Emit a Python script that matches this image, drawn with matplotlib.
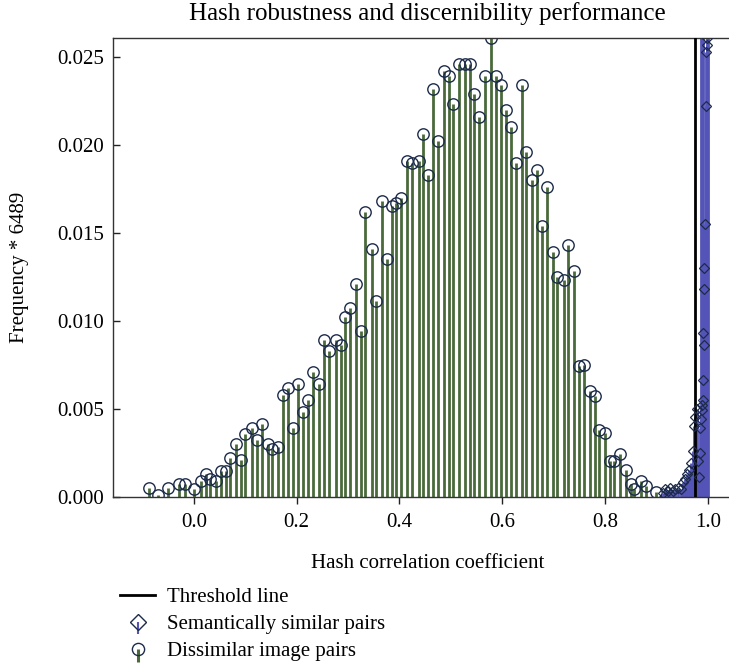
import numpy as np
import matplotlib.pyplot as plt
from matplotlib.lines import Line2D
from matplotlib.path import Path

plt.rcParams['font.family'] = ['Liberation Serif', 'DejaVu Serif']
plt.rcParams['font.size'] = 15

# dissimilar image pairs: hash correlation vs frequency
diss_x = [-0.088, -0.069, -0.050, -0.028, -0.018, 0.000, 0.014, 0.023, 0.031, 0.043,
          0.052, 0.063, 0.071, 0.083, 0.092, 0.100, 0.114, 0.123, 0.133, 0.144,
          0.153, 0.163, 0.173, 0.184, 0.192, 0.202, 0.213, 0.223, 0.232, 0.244,
          0.254, 0.263, 0.276, 0.286, 0.294, 0.303, 0.316, 0.325, 0.334, 0.346,
          0.355, 0.366, 0.375, 0.385, 0.394, 0.404, 0.415, 0.425, 0.438, 0.446,
          0.456, 0.466, 0.476, 0.486, 0.497, 0.505, 0.516, 0.527, 0.538, 0.546,
          0.555, 0.567, 0.578, 0.588, 0.597, 0.607, 0.618, 0.627, 0.638, 0.647,
          0.657, 0.668, 0.678, 0.688, 0.698, 0.707, 0.720, 0.728, 0.739, 0.749,
          0.759, 0.770, 0.781, 0.789, 0.799, 0.809, 0.818, 0.830, 0.841, 0.851,
          0.857, 0.870, 0.880, 0.899]
diss_y = [0.0005, 0.0001, 0.00046, 0.0007, 0.00073, 0.0004, 0.00088, 0.0013, 0.0010, 0.0009,
          0.00145, 0.00145, 0.0022, 0.0030, 0.0021, 0.00355, 0.0039, 0.0032, 0.0041, 0.0030,
          0.0027, 0.0028, 0.0058, 0.0062, 0.0039, 0.0064, 0.0048, 0.0055, 0.0071, 0.0064,
          0.0089, 0.0083, 0.0089, 0.0086, 0.0102, 0.0107, 0.0121, 0.0094, 0.0162, 0.0141,
          0.0111, 0.0168, 0.0135, 0.0165, 0.0167, 0.0170, 0.0191, 0.0190, 0.0191, 0.0206,
          0.0183, 0.0232, 0.0202, 0.0242, 0.0239, 0.0223, 0.0246, 0.0246, 0.0246, 0.0229,
          0.0216, 0.0239, 0.0261, 0.0239, 0.0234, 0.0220, 0.0210, 0.0190, 0.0234, 0.0196,
          0.0180, 0.0186, 0.0154, 0.0176, 0.0139, 0.0125, 0.0123, 0.0143, 0.0128, 0.0074,
          0.0075, 0.0060, 0.0057, 0.0038, 0.0036, 0.0020, 0.0020, 0.0024, 0.0015, 0.0007,
          0.0004, 0.0009, 0.0006, 0.00025]

# semantically similar pairs
sim_x = [0.912, 0.917, 0.922, 0.927, 0.932, 0.937, 0.942, 0.947, 0.952, 0.956,
         0.960, 0.964, 0.968, 0.971, 0.974, 0.976, 0.978, 0.980, 0.982, 0.984,
         0.985, 0.986, 0.987, 0.988, 0.989, 0.990, 0.9905, 0.991, 0.9915, 0.9925,
         0.993, 0.9935, 0.9945, 0.9955, 0.9965, 0.9975, 0.9985, 0.9995]
sim_y = [0.0002, 0.0004, 0.0003, 0.0005, 0.0003, 0.0004, 0.0005, 0.0004, 0.0008, 0.0010,
         0.0013, 0.0015, 0.0019, 0.0026, 0.0040, 0.0045, 0.0050, 0.0020, 0.0011, 0.0025,
         0.0039, 0.0044, 0.0480, 0.0049, 0.0052, 0.0055, 0.0093, 0.0066, 0.0950, 0.0118,
         0.0086, 0.0130, 0.0155, 0.0222, 0.0253, 0.0257, 0.0261, 0.3200]

threshold = 0.975
xticks = [0.0, 0.2, 0.4, 0.6, 0.8, 1.0]
yticks = [0.0, 0.005, 0.010, 0.015, 0.020, 0.025]

green = '#4a6a3c'
navy = '#1c2b4a'
blue = '#5454b8'

fig = plt.figure(figsize=(7.29, 6.65), dpi=100)
ax = fig.add_axes([112.5/729, 1 - 496.5/665, (742 - 112.5)/729, (496.5 - 37.7)/665])

st = ax.stem(diss_x, diss_y, basefmt=' ')
plt.setp(st.stemlines, color=green, linewidth=2)
plt.setp(st.markerline, marker='o', markersize=8.2, markerfacecolor='none',
         markeredgecolor=navy, markeredgewidth=1)

ss = ax.stem(sim_x, sim_y, basefmt=' ')
plt.setp(ss.stemlines, color=blue, linewidth=2)
plt.setp(ss.markerline, marker='D', markersize=5.4, markerfacecolor='none',
         markeredgecolor=navy, markeredgewidth=0.9, zorder=4)

ax.axvline(threshold, color='black', linewidth=2, zorder=3)

ax.set_xlim(-0.1582, 1.0665)
ax.set_ylim(0, 0.0261)
ax.set_xticks(xticks)
ax.set_xticklabels(['%.1f' % t for t in xticks])
ax.set_yticks(yticks)
ax.set_yticklabels(['%.3f' % t for t in yticks])
ax.tick_params(axis='x', direction='out', length=5, width=1, pad=6.7,
               colors='#222222', labelcolor='black')
ax.tick_params(axis='y', direction='in', length=5, width=1, pad=6.3,
               colors='#222222', labelcolor='black')
ax.spines['right'].set_visible(False)
for s in ['left', 'top', 'bottom']:
    ax.spines[s].set_color('#333333')
    ax.spines[s].set_linewidth(1)

ax.set_title('Hash robustness and discernibility performance', pad=13)
ax.set_xlabel('Hash correlation coefficient', labelpad=15.8)
ax.set_ylabel('Frequency * 6489', labelpad=20)

stem_mark = Path([(0, -1), (0, 0)])
h1 = Line2D([], [], color='black', linewidth=2)
h2 = (Line2D([], [], ls='none', marker=stem_mark, markersize=17, color=blue, markeredgewidth=1.5),
      Line2D([], [], ls='none', marker='D', markersize=7.8, markerfacecolor='none',
             markeredgecolor=navy, markeredgewidth=1))
h3 = (Line2D([], [], ls='none', marker=stem_mark, markersize=18, color=green, markeredgewidth=2.2),
      Line2D([], [], ls='none', marker='o', markersize=8.8, markerfacecolor='none',
             markeredgecolor=navy, markeredgewidth=1))
fig.legend([h1, h2, h3], ['Threshold line', 'Semantically similar pairs', 'Dissimilar image pairs'],
           loc='upper left', bbox_to_anchor=(120/729, 1 - 587.4/665), frameon=False,
           handlelength=1.68, handletextpad=0.59, labelspacing=0.357, borderpad=0,
           borderaxespad=0, numpoints=1)

fig.savefig('out.png', dpi=100)
